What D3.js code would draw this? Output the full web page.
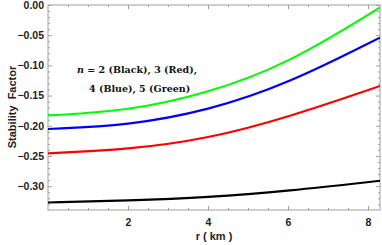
<!DOCTYPE html>
<html>
<head>
<meta charset="utf-8">
<script src="https://cdn.jsdelivr.net/npm/d3@7"></script>
<style>
  body { margin: 0; background: #fff; }
  svg { display: block; }
</style>
</head>
<body>
<svg class="chart"></svg>
<script>
// values
const rValues = [0, 2, 4, 6, 8.3];
const blackN2 = [-0.327, -0.3238, -0.3185, -0.308, -0.291];
const redN3 = [-0.2455, -0.2395, -0.2215, -0.186, -0.134];
const blueN4 = [-0.2053, -0.1995, -0.175, -0.1305, -0.054];
const greenN5 = [-0.1829, -0.1755, -0.146, -0.0975, -0.004];
const xTicks = [2, 4, 6, 8];
const yTicks = [0, -0.05, -0.10, -0.15, -0.20, -0.25, -0.30];

const series = [
  { name: 'n2', values: blackN2, color: '#000000' },
  { name: 'n3', values: redN3, color: '#ff0000' },
  { name: 'n4', values: blueN4, color: '#0000ff' },
  { name: 'n5', values: greenN5, color: '#00ff00' }
];

const svgWidth = 382;
const svgHeight = 245;
const margin = { top: 5, right: 2, bottom: 35, left: 48 };
const chartWidth = svgWidth - margin.left - margin.right;
const chartHeight = svgHeight - margin.top - margin.bottom;

const svg = d3.select('.chart')
  .attr('width', svgWidth)
  .attr('height', svgHeight);

const chart = svg.append('g')
  .attr('transform', 'translate(' + margin.left + ',' + margin.top + ')');

const xScale = d3.scaleLinear().domain([0, 8.3]).range([0, chartWidth]);
const yScale = d3.scaleLinear().domain([-0.3394, 0]).range([chartHeight, 0]);

const frameColor = '#a0a0a0';
const fmt = d => (d < 0 ? '\u2212' : '') + Math.abs(d).toFixed(2);

// minor ticks
const xMinor = d3.range(0.5, 8.3, 0.5).filter(v => v % 2 !== 0);
const yMinor = d3.range(-33, 0).map(v => v / 100).filter(v => Math.round(v * 100) % 5 !== 0);

function axisStyle(g) {
  g.select('.domain').remove();
  g.selectAll('line').attr('stroke', frameColor);
}

// bottom
chart.append('g')
  .attr('transform', 'translate(0,' + chartHeight + ')')
  .call(d3.axisBottom(xScale).tickValues(xMinor).tickSize(-2).tickFormat(''))
  .call(axisStyle);
chart.append('g')
  .attr('transform', 'translate(0,' + chartHeight + ')')
  .call(d3.axisBottom(xScale).tickValues(xTicks).tickSize(-4).tickPadding(9).tickFormat(d3.format('d')))
  .call(axisStyle)
  .selectAll('text')
  .attr('fill', '#222')
  .attr('font-family', 'Liberation Sans, Arial, sans-serif')
  .attr('font-weight', 'bold')
  .attr('font-size', '10.5px');

// top mirror
chart.append('g')
  .call(d3.axisTop(xScale).tickValues(xMinor).tickSize(-2).tickFormat(''))
  .call(axisStyle);
chart.append('g')
  .call(d3.axisTop(xScale).tickValues(xTicks).tickSize(-4).tickFormat(''))
  .call(axisStyle);

// left
chart.append('g')
  .call(d3.axisLeft(yScale).tickValues(yMinor).tickSize(-2).tickFormat(''))
  .call(axisStyle);
chart.append('g')
  .call(d3.axisLeft(yScale).tickValues(yTicks).tickSize(-4).tickPadding(4).tickFormat(fmt))
  .call(axisStyle)
  .selectAll('text')
  .attr('fill', '#222')
  .attr('font-family', 'Liberation Sans, Arial, sans-serif')
  .attr('font-weight', 'bold')
  .attr('font-size', '10.5px');

// right mirror
chart.append('g')
  .attr('transform', 'translate(' + chartWidth + ',0)')
  .call(d3.axisRight(yScale).tickValues(yMinor).tickSize(-2).tickFormat(''))
  .call(axisStyle);
chart.append('g')
  .attr('transform', 'translate(' + chartWidth + ',0)')
  .call(d3.axisRight(yScale).tickValues(yTicks).tickSize(-4).tickFormat(''))
  .call(axisStyle);

// frame
chart.append('rect')
  .attr('x', 0)
  .attr('y', 0)
  .attr('width', chartWidth)
  .attr('height', chartHeight)
  .attr('fill', 'none')
  .attr('stroke', frameColor)
  .attr('stroke-width', 1);

// curves
chart.append('clipPath').attr('id', 'clip')
  .append('rect').attr('width', chartWidth).attr('height', chartHeight);

const line = d3.line()
  .x(d => xScale(d[0]))
  .y(d => yScale(d[1]))
  .curve(d3.curveBasis);

chart.append('g').attr('clip-path', 'url(#clip)')
  .selectAll('.curve')
  .data(series)
  .enter()
  .append('path')
  .attr('class', 'curve')
  .attr('d', s => line(rValues.map((r, i) => [r, s.values[i]])))
  .attr('fill', 'none')
  .attr('stroke', s => s.color)
  .attr('stroke-width', 2.2);

// annotation
const note = chart.append('text')
  .attr('font-family', 'DejaVu Serif, serif')
  .attr('font-weight', 'bold')
  .attr('font-size', '9.5px')
  .attr('fill', '#111');
const line1 = note.append('tspan').attr('x', 29).attr('y', 68);
line1.append('tspan').attr('font-style', 'italic').text('n');
line1.append('tspan').text(' = 2 (Black), 3 (Red),');
note.append('tspan').attr('x', 41).attr('y', 87).text('4 (Blue), 5 (Green)');

// axis labels
svg.append('text')
  .attr('x', margin.left + xScale(4.15))
  .attr('y', 240)
  .attr('text-anchor', 'middle')
  .attr('font-family', 'Liberation Sans, Arial, sans-serif')
  .attr('font-weight', 'bold')
  .attr('font-size', '11px')
  .attr('fill', '#222')
  .attr('xml:space', 'preserve')
  .text('r ( km )');

svg.append('text')
  .attr('transform', 'rotate(-90)')
  .attr('x', -107)
  .attr('y', 16)
  .attr('text-anchor', 'middle')
  .attr('font-family', 'Liberation Sans, Arial, sans-serif')
  .attr('font-weight', 'bold')
  .attr('font-size', '11px')
  .attr('fill', '#222')
  .attr('xml:space', 'preserve')
  .text('Stability  Factor');
</script>
</body>
</html>
